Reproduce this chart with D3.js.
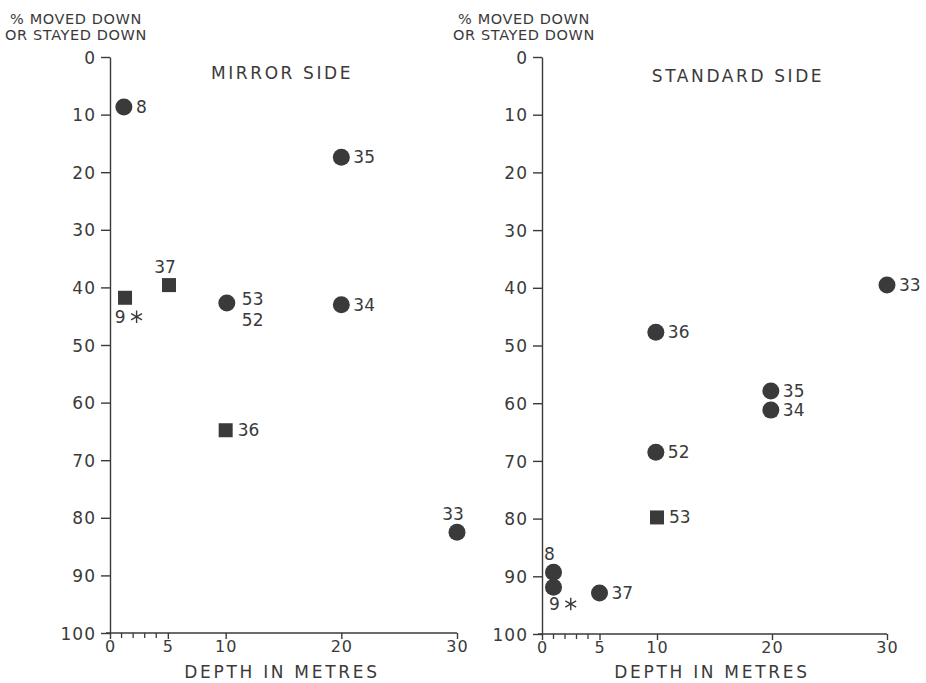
<!DOCTYPE html>
<html>
<head>
<meta charset="utf-8">
<script src="https://cdn.jsdelivr.net/npm/d3@7"></script>
<style>
  html, body { margin: 0; padding: 0; background: #ffffff; }
  svg { display: block; }
  text { font-family: "DejaVu Sans", sans-serif; fill: #3a3a3a; }
</style>
</head>
<body>
<svg id="chart" width="926" height="683"></svg>
<script>
// ---- data ----
const yTickValues = [0, 10, 20, 30, 40, 50, 60, 70, 80, 90, 100];
const xTickValues = [0, 5, 10, 20, 30];
const xMinorTicks = [1, 2, 3, 4];
const yTitleLines = ["% MOVED DOWN", "OR STAYED DOWN"];
const xTitle = "DEPTH IN METRES";

const panelTitles = ["MIRROR SIDE", "STANDARD SIDE"];

// Mirror side
const mirrorDepth  = [1.2, 20, 1.3, 2.3, 5.1, 10.1, 20, 10, 30];
const mirrorPct    = [8.7, 17.4, 41.8, 45.1, 39.6, 42.7, 43.0, 64.8, 82.5];
const mirrorShape  = ["circle", "circle", "square", "asterisk", "square", "circle", "circle", "square", "circle"];
const mirrorLabel  = ["8", "35", "", "9", "37", "53|52", "34", "36", "33"];
const mirrorPlace  = ["right", "right", "none", "left", "above", "split", "right", "right", "above"];

// Standard side
const standardDepth = [30, 9.9, 19.9, 19.9, 9.9, 10, 1.0, 1.0, 2.5, 5];
const standardPct   = [39.5, 47.7, 57.9, 61.2, 68.5, 79.8, 89.3, 91.9, 94.8, 92.9];
const standardShape = ["circle", "circle", "circle", "circle", "circle", "square", "circle", "circle", "asterisk", "circle"];
const standardLabel = ["33", "36", "35", "34", "52", "53", "8", "", "9", "37"];
const standardPlace = ["right", "right", "right", "right", "right", "right", "above", "none", "left", "right"];

// ---- drawing ----
const svg = d3.select("#chart");
const ink = "#3a3a3a";

const panels = [
  { xr: [110, 457], yr: [57, 633], depth: mirrorDepth, pct: mirrorPct, shape: mirrorShape, label: mirrorLabel, place: mirrorPlace,
    title: panelTitles[0], titleX: 282, titleY: 79, yTitleX: 76, xTitleX: 282 },
  { xr: [542, 887], yr: [57, 634], depth: standardDepth, pct: standardPct, shape: standardShape, label: standardLabel, place: standardPlace,
    title: panelTitles[1], titleX: 738, titleY: 82, yTitleX: 524, xTitleX: 712 }
];

panels.forEach(p => {
  const x = d3.scaleLinear().domain([0, 30]).range(p.xr);
  const y = d3.scaleLinear().domain([0, 100]).range(p.yr);
  const g = svg.append("g");

  // y axis
  const yAxis = d3.axisLeft(y).tickValues(yTickValues).tickSize(9).tickPadding(5).tickSizeOuter(0);
  const ya = g.append("g").attr("transform", `translate(${p.xr[0]},0)`).call(yAxis);
  ya.select(".domain").attr("stroke", ink).attr("stroke-width", 1.4);
  ya.selectAll(".tick line").attr("stroke", ink).attr("stroke-width", 1.4);
  ya.selectAll(".tick text").style("font-size", "17px").style("letter-spacing", "1px").attr("fill", ink).attr("dy", "0.36em");

  // x axis
  const xAxis = d3.axisBottom(x).tickValues(xTickValues).tickSize(6).tickPadding(2).tickSizeOuter(0);
  const xa = g.append("g").attr("transform", `translate(0,${p.yr[1]})`).call(xAxis);
  xa.select(".domain").attr("stroke", ink).attr("stroke-width", 1.4).attr("d", `M${p.xr[0]-4},0H${p.xr[1]}`);
  xa.selectAll(".tick line").attr("stroke", ink).attr("stroke-width", 1.4);
  xa.selectAll(".tick text").style("font-size", "16px").style("letter-spacing", "1px").attr("fill", ink);
  xa.selectAll(".minor").data(xMinorTicks).enter().append("line")
    .attr("class", "minor")
    .attr("x1", d => x(d)).attr("x2", d => x(d))
    .attr("y1", 0).attr("y2", 5)
    .attr("stroke", ink).attr("stroke-width", 1.3);

  // x title
  g.append("text").attr("x", p.xTitleX).attr("y", 678).attr("text-anchor", "middle")
    .style("font-size", "17px").style("letter-spacing", "2.7px").text(xTitle);

  // y title
  yTitleLines.forEach((t, i) => {
    g.append("text").attr("x", p.yTitleX).attr("y", 24 + i * 16).attr("text-anchor", "middle")
      .style("font-size", "14.5px").style("letter-spacing", "0.6px").text(t);
  });

  // panel title
  g.append("text").attr("x", p.titleX).attr("y", p.titleY).attr("text-anchor", "middle")
    .style("font-size", "17px").style("letter-spacing", "2.6px").text(p.title);

  // points
  const pts = p.depth.map((d, i) => ({ d, v: p.pct[i], s: p.shape[i], l: p.label[i], pl: p.place[i] }));
  const marks = g.append("g");
  pts.forEach(pt => {
    const cx = x(pt.d), cy = y(pt.v);
    if (pt.s === "circle") {
      marks.append("circle").attr("cx", cx).attr("cy", cy).attr("r", 8.5).attr("fill", ink);
    } else if (pt.s === "square") {
      marks.append("rect").attr("x", cx - 7).attr("y", cy - 7).attr("width", 14).attr("height", 14).attr("fill", ink);
    } else if (pt.s === "asterisk") {
      marks.append("path").attr("transform", `translate(${cx},${cy})`)
        .attr("d", d3.symbol().type(d3.symbolAsterisk).size(110)())
        .attr("fill", "none").attr("stroke", ink).attr("stroke-width", 1.4);
    }
    const lab = marks.append("g").style("font-size", "17px");
    if (pt.pl === "right") {
      lab.append("text").attr("x", cx + 12).attr("y", cy + 6).text(pt.l);
    } else if (pt.pl === "above") {
      lab.append("text").attr("x", cx - 4).attr("y", cy - 12).attr("text-anchor", "middle").text(pt.l);
    } else if (pt.pl === "left") {
      lab.append("text").attr("x", cx - 11).attr("y", cy + 6).attr("text-anchor", "end").text(pt.l);
    } else if (pt.pl === "split") {
      const parts = pt.l.split("|");
      lab.append("text").attr("x", cx + 15).attr("y", cy + 2).text(parts[0]);
      lab.append("text").attr("x", cx + 15).attr("y", cy + 23).text(parts[1]);
    }
  });
});
</script>
</body>
</html>
